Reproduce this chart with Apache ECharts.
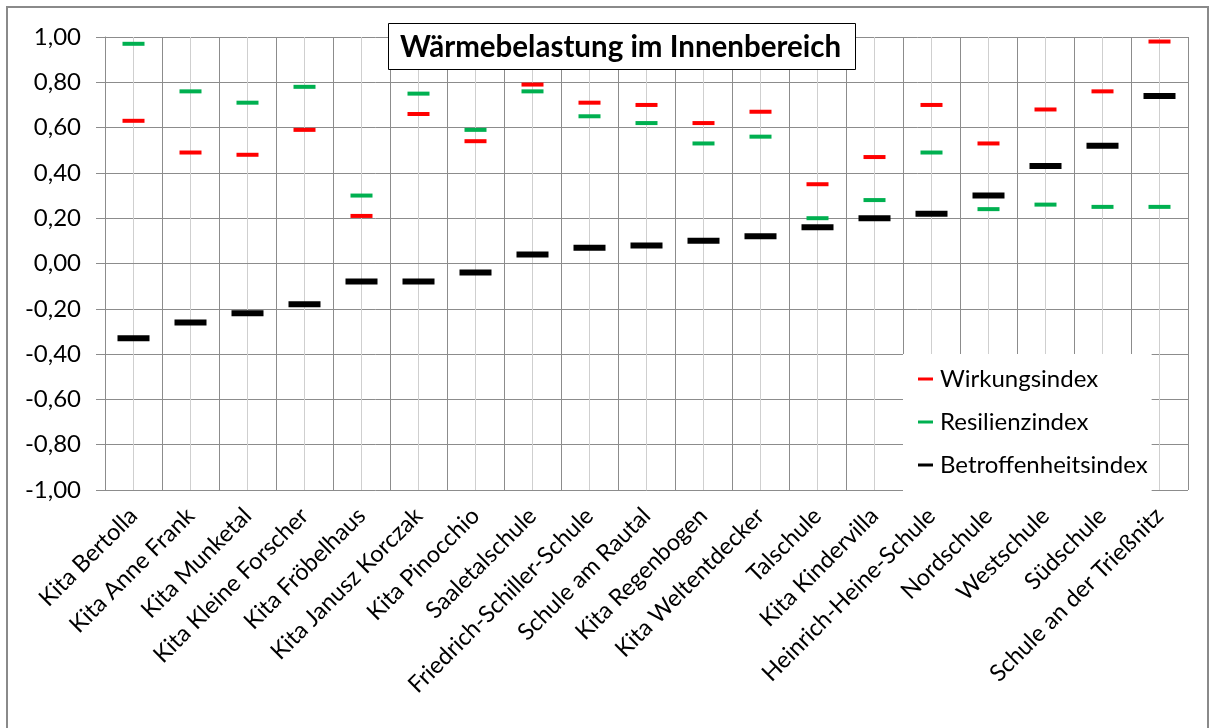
<!DOCTYPE html>
<html>
<head>
<meta charset="utf-8">
<script src="https://cdn.jsdelivr.net/npm/echarts@6/dist/echarts.min.js"></script>
<style>
  html, body { margin: 0; padding: 0; background: #fff; }
  #chart { width: 1214px; height: 728px; }
</style>
</head>
<body>
<div id="chart"></div>
<script>
// Einrichtungen (x-Achse)
const schools = [
  'Kita Bertolla', 'Kita Anne Frank', 'Kita Munketal', 'Kita Kleine Forscher',
  'Kita Fröbelhaus', 'Kita Janusz Korczak', 'Kita Pinocchio', 'Saaletalschule',
  'Friedrich-Schiller-Schule', 'Schule am Rautal', 'Kita Regenbogen',
  'Kita Weltentdecker', 'Talschule', 'Kita Kindervilla', 'Heinrich-Heine-Schule',
  'Nordschule', 'Westschule', 'Südschule', 'Schule an der Trießnitz'
];

const wirkung = [0.63, 0.49, 0.48, 0.59, 0.21, 0.66, 0.54, 0.79, 0.71, 0.70,
  0.62, 0.67, 0.35, 0.47, 0.70, 0.53, 0.68, 0.76, 0.98];
const resilienz = [0.97, 0.76, 0.71, 0.78, 0.30, 0.75, 0.59, 0.76, 0.65, 0.62,
  0.53, 0.56, 0.20, 0.28, 0.49, 0.24, 0.26, 0.25, 0.25];
const betroffenheit = [-0.33, -0.26, -0.22, -0.18, -0.08, -0.08, -0.04, 0.04, 0.07, 0.08,
  0.10, 0.12, 0.16, 0.20, 0.22, 0.30, 0.43, 0.52, 0.74];

const yMin = -1, yMax = 1, yStep = 0.2;

const FONT = 'Lato';

function fmt(v) {
  if (Math.abs(v) < 1e-9) v = 0;
  return v.toFixed(2).replace('.', ',');
}

const chart = echarts.init(document.getElementById('chart'));

chart.setOption({
  animation: false,
  backgroundColor: '#fff',
  textStyle: { fontFamily: FONT, color: '#000' },
  graphic: [{
    type: 'rect',
    shape: { x: 7, y: 7, width: 1201, height: 740 },
    style: { fill: 'none', stroke: '#8a8a8a', lineWidth: 2 },
    z: -1
  }],
  title: {
    text: 'Wärmebelastung im Innenbereich',
    left: 388,
    top: 23,
    padding: [9, 15, 8, 12],
    borderColor: '#000',
    borderWidth: 1,
    backgroundColor: '#fff',
    textStyle: { fontFamily: FONT, fontSize: 29.5, fontWeight: 'bold', color: '#000' },
    z: 10
  },
  legend: {
    orient: 'vertical',
    left: 903,
    top: 354,
    padding: [13, 4, 14, 15],
    backgroundColor: '#fff',
    itemGap: 19,
    itemWidth: 15,
    itemHeight: 3,
    icon: 'rect',
    textStyle: { fontFamily: FONT, fontSize: 24, color: '#000', padding: [0, 0, 0, 2] },
    data: ['Wirkungsindex', 'Resilienzindex', 'Betroffenheitsindex'],
    z: 1
  },
  grid: { left: 105, right: 26, top: 37, bottom: 238, containLabel: false },
  xAxis: [{
    type: 'category',
    data: schools,
    boundaryGap: true,
    axisLine: { show: true, lineStyle: { color: '#8c8c8c', width: 1 } },
    axisTick: { show: false },
    splitLine: { show: false },
    axisLabel: {
      rotate: 45,
      interval: 0,
      margin: 22,
      fontFamily: FONT,
      fontSize: 23.5,
      color: '#000'
    }
  }, {
    type: 'value',
    min: 0,
    max: schools.length * 2,
    interval: 1,
    position: 'bottom',
    axisLine: { show: false },
    axisTick: { show: false },
    axisLabel: { show: false },
    splitLine: { show: true, lineStyle: { color: ['#8c8c8c', '#cfcfcf'], width: 1 } }
  }],
  yAxis: {
    type: 'value',
    min: yMin,
    max: yMax,
    interval: yStep,
    axisLine: { show: true, lineStyle: { color: '#8c8c8c' } },
    axisTick: { show: true, inside: false, length: 9, lineStyle: { color: '#8c8c8c' } },
    splitLine: { show: true, lineStyle: { color: '#8c8c8c', width: 1 } },
    axisLabel: {
      formatter: fmt,
      margin: 24,
      fontFamily: FONT,
      fontSize: 24,
      color: '#000'
    }
  },
  series: [{
    name: 'Wirkungsindex',
    type: 'scatter',
    symbol: 'rect',
    symbolSize: [22, 4],
    itemStyle: { color: '#ff0000', opacity: 1 },
    data: wirkung
  }, {
    name: 'Resilienzindex',
    type: 'scatter',
    symbol: 'rect',
    symbolSize: [22, 4],
    itemStyle: { color: '#00b050', opacity: 1 },
    data: resilienz
  }, {
    name: 'Betroffenheitsindex',
    type: 'scatter',
    symbol: 'rect',
    symbolSize: [32, 6],
    itemStyle: { color: '#000000', opacity: 1 },
    data: betroffenheit
  }]
});
</script>
</body>
</html>
